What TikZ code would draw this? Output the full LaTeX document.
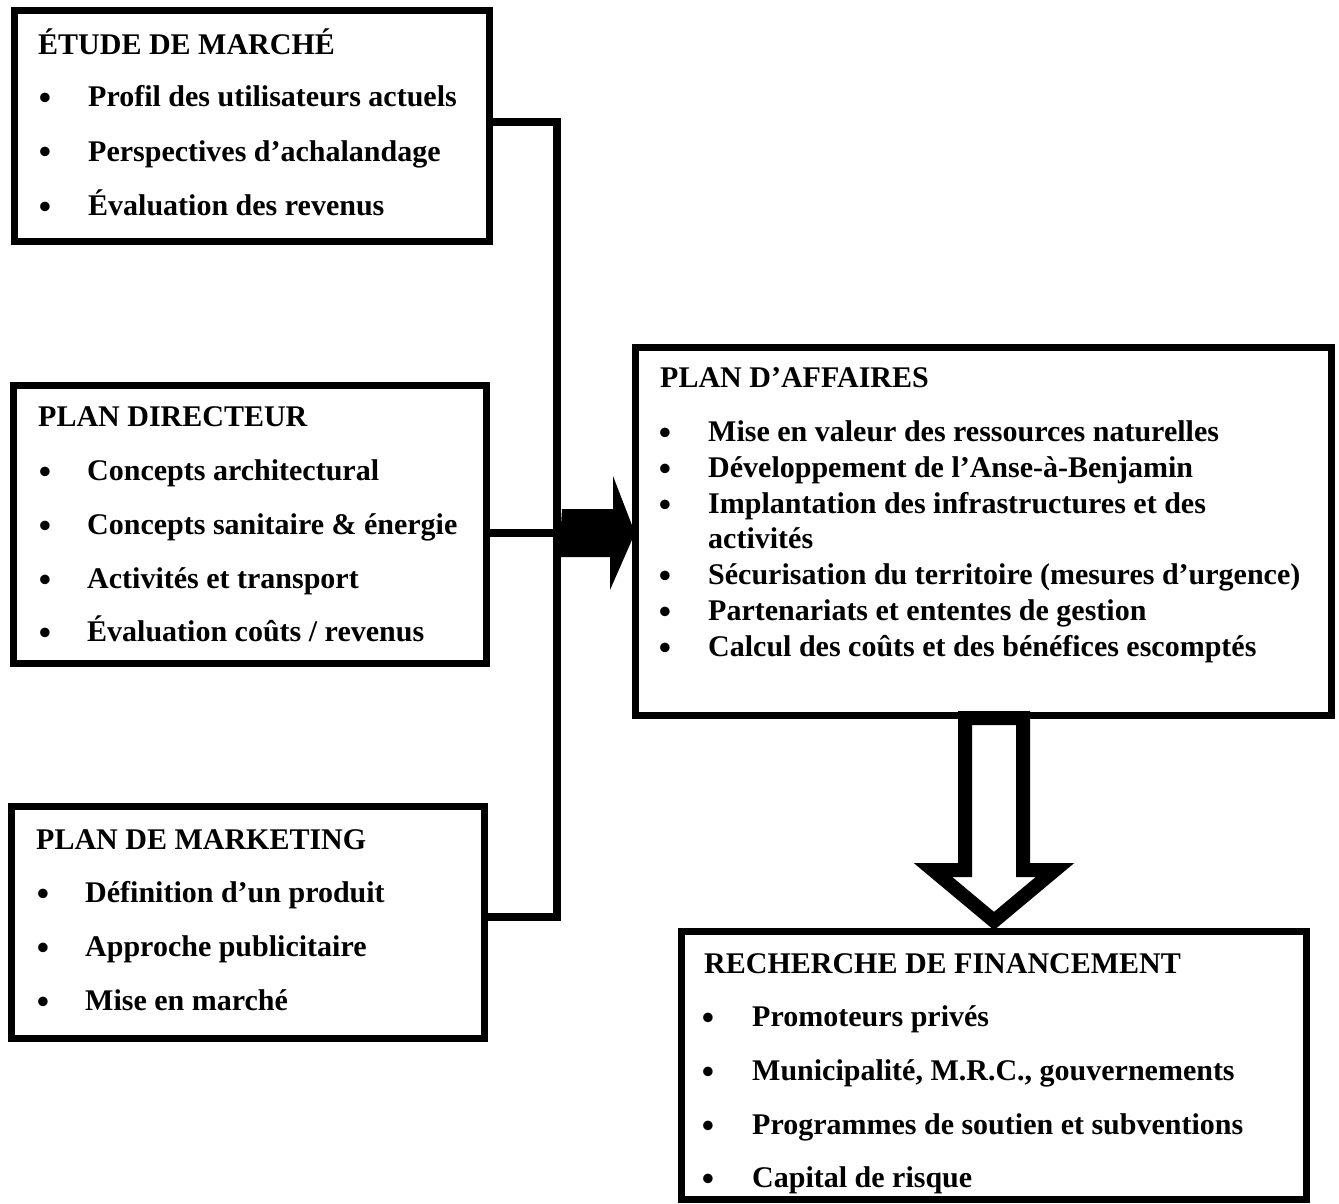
\documentclass[tikz,border=0pt]{standalone}
\usepackage{fontspec}
\setmainfont{Liberation Serif}
\usetikzlibrary{calc}
\begin{document}
\begin{tikzpicture}[x=1pt,y=-1pt,
  box/.style={draw, line width=7pt, inner sep=0pt, outer sep=0pt, anchor=north west, fill=white},
  conn/.style={line width=8pt, line join=miter},
  txt/.style={anchor=base west, inner sep=0pt, font=\fontsize{30}{36}\selectfont\bfseries},
  bul/.style={anchor=base, inner sep=0pt, yshift=-3pt, font=\fontsize{35}{38}\selectfont\bfseries}]
\useasboundingbox (0,0) rectangle (1339,1204);
% boxes
\node[box, minimum width=475pt, minimum height=230pt] (b1) at (14,11) {};
\node[box, minimum width=473pt, minimum height=278pt] (b2) at (13,385) {};
\node[box, minimum width=473pt, minimum height=232pt] (b3) at (11,806) {};
\node[box, minimum width=696pt, minimum height=368pt] (b4) at (635,347) {};
\node[box, minimum width=625pt, minimum height=268pt] (b5) at (681,931) {};
% connectors
\coordinate (jt) at (557,122);
\coordinate (jm) at (557,533);
\coordinate (jb) at (557,917);
\draw[conn] (b1.east |- jt) -- (jt) -- (jb) -- (b3.east |- jb);
\draw[conn] (b2.east |- jm) -- (jm);
\fill ($(jm)+(5,-24)$) -- ++(51,0) -- ++(0,-33) -- (b4.west |- jm) -- ++(-25,57) -- ++(0,-33) -- ++(-51,0) -- cycle;
% down arrow
\draw[line width=14pt, fill=white, line join=miter] (965,718) -- (965,870) -- (933,870) -- (994,921) -- (1055,870) -- (1023,870) -- (1023,718) -- cycle;
% box 1 text
\node[txt] (t1) at (38,55) {ÉTUDE DE MARCHÉ};
\node[bul] (t1a) at (45,107) {•}; \node[txt] (t1b) at (88,107) {Profil des utilisateurs actuels};
\node[bul] (t1c) at (45,161) {•}; \node[txt] (t1d) at (88,161) {Perspectives d’achalandage};
\node[bul] (t1e) at (45,215) {•}; \node[txt] (t1f) at (88,215) {Évaluation des revenus};
% box 2 text
\node[txt] (t2) at (38,426) {PLAN DIRECTEUR};
\node[bul] (t2a) at (45,480) {•}; \node[txt] (t2b) at (87,480) {Concepts architectural};
\node[bul] (t2c) at (45,534) {•}; \node[txt] (t2d) at (87,534) {Concepts sanitaire \& énergie};
\node[bul] (t2e) at (45,588) {•}; \node[txt] (t2f) at (87,588) {Activités et transport};
\node[bul] (t2g) at (45,641) {•}; \node[txt] (t2h) at (87,641) {Évaluation coûts / revenus};
% box 3 text
\node[txt] (t3) at (36,849) {PLAN DE MARKETING};
\node[bul] (t3a) at (43,902) {•}; \node[txt] (t3b) at (85,902) {Définition d’un produit};
\node[bul] (t3c) at (43,956) {•}; \node[txt] (t3d) at (85,956) {Approche publicitaire};
\node[bul] (t3e) at (43,1010) {•}; \node[txt] (t3f) at (85,1010) {Mise en marché};
% box 4 text
\node[txt] (t4) at (660,387) {PLAN D’AFFAIRES};
\node[bul] (t4a) at (665,441) {•}; \node[txt] (t4b) at (708,441) {Mise en valeur des ressources naturelles};
\node[bul] (t4c) at (665,477) {•}; \node[txt] (t4d) at (708,477) {Développement de l’Anse-à-Benjamin};
\node[bul] (t4e) at (665,513) {•}; \node[txt] (t4f) at (708,513) {Implantation des infrastructures et des};
\node[txt] (t4g) at (708,548) {activités};
\node[bul] (t4h) at (665,584) {•}; \node[txt] (t4i) at (708,584) {Sécurisation du territoire (mesures d’urgence)};
\node[bul] (t4j) at (665,620) {•}; \node[txt] (t4k) at (708,620) {Partenariats et ententes de gestion};
\node[bul] (t4l) at (665,656) {•}; \node[txt] (t4m) at (708,656) {Calcul des coûts et des bénéfices escomptés};
% box 5 text
\node[txt] (t5) at (704,973) {RECHERCHE DE FINANCEMENT};
\node[bul] (t5a) at (708,1026) {•}; \node[txt] (t5b) at (752,1026) {Promoteurs privés};
\node[bul] (t5c) at (708,1080) {•}; \node[txt] (t5d) at (752,1080) {Municipalité, M.R.C., gouvernements};
\node[bul] (t5e) at (708,1134) {•}; \node[txt] (t5f) at (752,1134) {Programmes de soutien et subventions};
\node[bul] (t5g) at (708,1187) {•}; \node[txt] (t5h) at (752,1187) {Capital de risque};
\end{tikzpicture}
\end{document}
